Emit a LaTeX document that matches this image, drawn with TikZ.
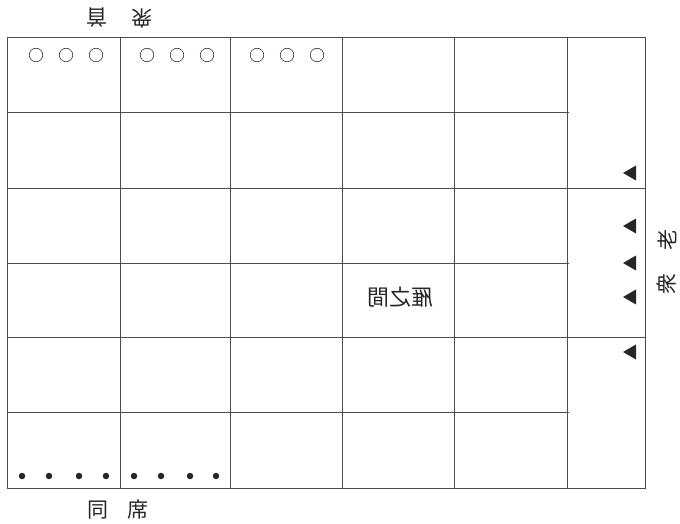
\documentclass[tikz,border=0pt]{standalone}
\usepackage{fontspec}
\usetikzlibrary{calc}
\newfontfamily\cjk{Noto Sans CJK JP}
\begin{document}
\begin{tikzpicture}[x=1pt,y=-1pt,
  gridline/.style={draw=black!70, line width=1pt},
  seatopen/.style={circle, draw=black!80, line width=0.6pt, minimum size=13.5pt, inner sep=0pt},
  seatdot/.style={circle, fill=black!85, minimum size=6.5pt, inner sep=0pt},
  seattri/.style={fill=black!85, draw=none},
  lbl/.style={font=\cjk\fontsize{21}{21}\selectfont, inner sep=0pt, text=black!85}
]
\useasboundingbox (0,0) rectangle (680,524);
% outer frame
\draw[gridline] (7,38) rectangle (645,488);
% vertical lines
\foreach \x in {120,230,342,454,567} \draw[gridline] (\x,38) -- (\x,488);
% horizontal lines (first five columns)
\foreach \y in {113,263,412} \draw[gridline] (7,\y) -- (569,\y);
\foreach \y in {188,337} \draw[gridline] (7,\y) -- (645,\y);
% open circles
\foreach \x [count=\i] in {36,66,96,147,177,207,257,287,317}
  \node[seatopen] (c\i) at (\x,55) {};
% dots
\foreach \x [count=\i] in {22,49,79,106,134,161,190,216}
  \node[seatdot] (d\i) at (\x,476) {};
% triangles
\foreach \y [count=\i] in {173,226,263,297,352}{
  \coordinate (t\i) at (629.5,\y);
  \fill[seattri] ($(t\i)+(-6.5,0)$) -- ($(t\i)+(6.5,-7.5)$) -- ($(t\i)+(6.5,7.5)$) -- cycle;
}
% labels
\node[lbl, rotate=180] (top1) at (97,18) {首};
\node[lbl, rotate=180] (top2) at (142,18) {衆};
\node[lbl] (bot1) at (98,510) {同};
\node[lbl] (bot2) at (138,510) {席};
\node[lbl, rotate=90] (r1) at (667,240) {老};
\node[lbl, rotate=90] (r2) at (667,284) {衆};
\node[lbl, xscale=-1, font=\cjk\fontsize{22}{22}\selectfont] (mid) at (400,297) {雁之間};
\end{tikzpicture}
\end{document}
